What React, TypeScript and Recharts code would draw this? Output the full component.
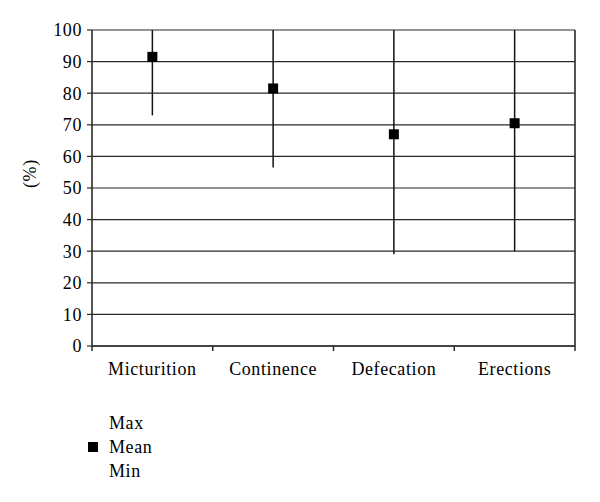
import React from 'react';
import { ComposedChart, Scatter, ErrorBar, XAxis, YAxis, CartesianGrid, ReferenceLine } from 'recharts';

const categories = ['Micturition', 'Continence', 'Defecation', 'Erections'];
const maxValues = [100, 100, 100, 100];
const meanValues = [91.5, 81.5, 67, 70.5];
const minValues = [73, 56.5, 29, 30];
const yTicks = [0, 10, 20, 30, 40, 50, 60, 70, 80, 90, 100];
const legendLabels = ['Max', 'Mean', 'Min'];

const data = categories.map((c, i) => ({
  name: c,
  pos: i + 0.5,
  mean: meanValues[i],
  err: [meanValues[i] - minValues[i], maxValues[i] - meanValues[i]],
}));

const xTicks: number[] = [];
for (let i = 0; i <= categories.length; i++) {
  xTicks.push(i);
  if (i < categories.length) xTicks.push(i + 0.5);
}

const FONT = '"Liberation Serif", "Times New Roman", serif';
const GRID = '#2a2a2a';
const FS = 18;
const LS = 0.6;

const XTick = (props: any) => {
  const { x, y, payload } = props;
  const v = payload.value;
  if (Number.isInteger(v)) {
    return <line x1={x} x2={x} y1={y} y2={y + 5} stroke={GRID} strokeWidth={1.5} />;
  }
  const label = categories[Math.floor(v)];
  return (
    <text x={x} y={y + 29} textAnchor="middle" fill="#000" fontFamily={FONT} fontSize={FS} letterSpacing={LS}>
      {label}
    </text>
  );
};

const Square = (props: any) => {
  const { cx, cy } = props;
  if (cx == null || cy == null) return null;
  return <rect x={cx - 5} y={cy - 5} width={10} height={10} fill="#000" />;
};

export default function App() {
  return (
    <div style={{ position: 'absolute', left: 0, top: 0, width: 600, height: 502, background: '#fff' }}>
      <ComposedChart width={600} height={502} data={data} margin={{ top: 30, right: 25, bottom: 116, left: 0 }}>
        <CartesianGrid vertical={false} stroke={GRID} strokeWidth={1.2} />
        <XAxis
          dataKey="pos"
          type="number"
          domain={[0, 4]}
          ticks={xTicks}
          interval={0}
          tickLine={false}
          tickSize={0}
          tickMargin={0}
          height={40}
          axisLine={{ stroke: GRID, strokeWidth: 1.6 }}
          tick={<XTick />}
        />
        <YAxis
          type="number"
          domain={[0, 100]}
          ticks={yTicks}
          interval={0}
          width={92}
          tickSize={5}
          tickMargin={5}
          axisLine={{ stroke: GRID, strokeWidth: 1.6 }}
          tickLine={{ stroke: GRID, strokeWidth: 1.2 }}
          tick={{ fill: '#000', fontFamily: FONT, fontSize: FS, letterSpacing: LS }}
          label={{ value: '(%)', angle: -90, position: 'insideLeft', offset: 30, fill: '#000', fontFamily: FONT, fontSize: FS, letterSpacing: LS }}
        />
        <ReferenceLine x={4} stroke={GRID} strokeWidth={1.6} />
        <Scatter dataKey="mean" fill="#000" shape={<Square />} isAnimationActive={false}>
          <ErrorBar dataKey="err" direction="y" width={0} stroke="#111" strokeWidth={1.5} isAnimationActive={false} />
        </Scatter>
      </ComposedChart>
      <div style={{ position: 'absolute', left: 86, top: 411, fontFamily: FONT, fontSize: FS, letterSpacing: LS, color: '#000' }}>
        {legendLabels.map((l, i) => (
          <div key={l} style={{ height: 24, lineHeight: '24px', display: 'flex', alignItems: 'center' }}>
            <span style={{ display: 'inline-block', width: 10, height: 10, background: i === 1 ? '#000' : 'transparent', marginRight: 11, marginLeft: 2 }} />
            <span>{l}</span>
          </div>
        ))}
      </div>
    </div>
  );
}
